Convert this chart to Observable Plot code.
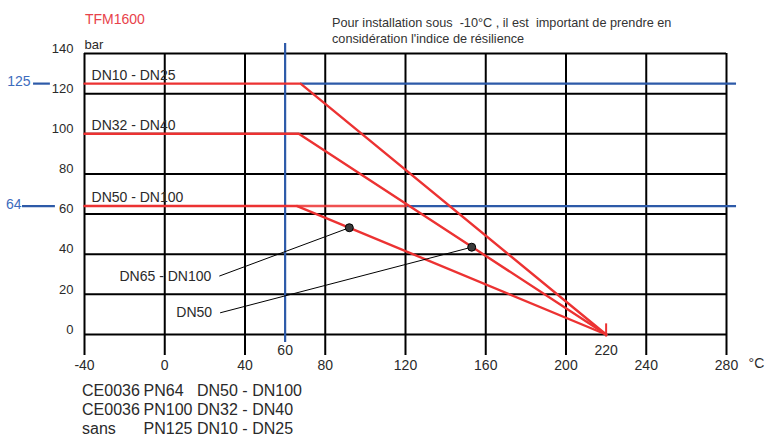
<!DOCTYPE html>
<html><head><meta charset="utf-8">
<script src="https://cdn.jsdelivr.net/npm/d3@7"></script>
<script src="https://cdn.jsdelivr.net/npm/@observablehq/plot@0.6"></script>
<style>
body{margin:0;background:#fff;font-family:"Liberation Sans",Arial,sans-serif;color:#2a2a2a}
#wrap{position:relative;width:765px;height:436px;overflow:hidden;background:#fff}
#wrap svg{position:absolute;left:0;top:0}
.abs{position:absolute;white-space:pre}
</style></head>
<body><div id="wrap"></div>
<script>
// ---- data ----
const xTicks = [-40, 0, 40, 80, 120, 160, 200, 240, 280];
const yTicks = [0, 20, 40, 60, 80, 100, 120, 140];
const seriesNames = ["DN10 - DN25", "DN32 - DN40", "DN50 - DN100"];
const maxPressure = [125, 100, 64];          // bar
const kneeTemp = [67.7, 66.8, 66];          // °C where derating starts
const startTemp = -40;
const endTemp = 220;                         // °C, 0 bar
const pnLimits = [125, 64];                  // blue reference levels
const limitTemp = 60;                        // blue reference temperature
const markerNames = ["DN65 - DN100", "DN50"];
const markerTemp = [92, 153];
const markerPressure = [53.2, 43.5];
const legendCert = ["CE0036", "CE0036", "sans"];
const legendPN = ["PN64", "PN100", "PN125"];
const legendDN = ["DN50 - DN100", "DN32 - DN40", "DN10 - DN25"];

const red = "#ec3232", blue = "#2d5aa8", blueText = "#3d6cbd", ink = "#2a2a2a";

const lineData = seriesNames.flatMap((s, i) => [
  {s, t: startTemp, p: maxPressure[i]},
  {s, t: kneeTemp[i], p: maxPressure[i]},
  {s, t: endTemp, p: 0}
]);
const seriesLabels = seriesNames.map((s, i) => ({s, t: -36.5, p: maxPressure[i] + 4}));
const markers = markerNames.map((n, i) => ({n, t: markerTemp[i], p: markerPressure[i]}));
const markerLabelPos = [{t: 23.2, p: 29.1}, {t: 23.6, p: 10.8}];
const blueRules = [
  {y: pnLimits[0], x1: kneeTemp[0], x2: 285},
  {y: pnLimits[1], x1: 121, x2: 285},
  {y: pnLimits[0], x1: -65.4, x2: -57},
  {y: pnLimits[1], x1: -70.9, x2: -54.5}
];
const redExtension = [{y: pnLimits[1], x1: kneeTemp[2], x2: 121}];
const blueLabels = [
  {y: pnLimits[0], x: -66.9, label: String(pnLimits[0])},
  {y: pnLimits[1], x: -71.4, label: String(pnLimits[1])}
];

const chart = Plot.plot({
  width: 765, height: 436,
  marginTop: 53, marginBottom: 102, marginLeft: 84, marginRight: 39,
  x: {domain: [-40, 280], label: null},
  y: {domain: [0, 140], label: null},
  style: {fontFamily: "Liberation Sans, Arial, sans-serif", fontSize: "13px", color: ink, background: "transparent", overflow: "visible"},
  marks: [
    Plot.ruleX(xTicks, {x: d => d, y1: -10.5, y2: 140, stroke: "#000", strokeWidth: 2}),
    Plot.ruleY(yTicks, {y: d => d, x1: -40, x2: 280, stroke: "#000", strokeWidth: 2}),
    Plot.axisX(xTicks, {tickSize: 0, tickPadding: 26, fontSize: 14, fill: ink, label: null, tickFormat: d => String(d)}),
    Plot.axisY(yTicks, {tickSize: 0, tickPadding: 11, dy: -5, fontSize: 13, fill: ink, label: null, tickFormat: d => String(d)}),
    Plot.ruleX([limitTemp], {x: d => d, y1: -4, y2: 145, stroke: blue, strokeWidth: 2.2}),
    Plot.ruleY(blueRules, {y: "y", x1: "x1", x2: "x2", stroke: blue, strokeWidth: 2.2}),
    Plot.text(blueLabels, {x: "x", y: "y", text: "label", dy: -2, textAnchor: "end", fill: blueText, fontSize: 14}),
    Plot.ruleY(redExtension, {y: "y", x1: "x1", x2: "x2", stroke: red, strokeWidth: 2.4, strokeOpacity: 0.85}),
    Plot.line(lineData, {x: "t", y: "p", z: "s", stroke: red, strokeWidth: 2.4}),
    Plot.ruleX([endTemp], {x: d => d, y1: -1.3, y2: 5.3, stroke: red, strokeWidth: 2}),
    Plot.link(markers, {x1: (d, i) => markerLabelPos[i].t + 4, y1: (d, i) => markerLabelPos[i].p, x2: "t", y2: "p", stroke: "#000", strokeWidth: 1}),
    Plot.dot(markers, {x: "t", y: "p", r: 4, fill: "#3a3a3a", stroke: "#000", strokeWidth: 1}),
    Plot.text(markers, {x: (d, i) => markerLabelPos[i].t, y: (d, i) => markerLabelPos[i].p, text: "n", textAnchor: "end", fontSize: 14, fill: ink}),
    Plot.text(seriesLabels, {x: "t", y: "p", text: "s", textAnchor: "start", fontSize: 14, fill: ink}),
    Plot.text([limitTemp, endTemp], {x: d => d, y: -8, text: d => String(d), fontSize: 14, fill: ink}),
    Plot.text(["°C"], {x: 291, y: -14.6, text: d => d, textAnchor: "start", fontSize: 14, fill: ink}),
    Plot.text(["bar"], {x: -40, y: 144.5, text: d => d, textAnchor: "start", fontSize: 13, fill: ink})
  ]
});

const wrap = document.getElementById("wrap");
wrap.appendChild(chart);

function addText(txt, left, top, size, color, lh) {
  const d = document.createElement("div");
  d.className = "abs";
  d.textContent = txt;
  d.style.left = left + "px";
  d.style.top = top + "px";
  d.style.fontSize = size + "px";
  d.style.lineHeight = lh;
  d.style.color = color;
  wrap.appendChild(d);
  return d;
}
addText("TFM1600", 85, 12, 14, "#e8424a", "1");
addText("Pour installation sous  -10°C , il est  important de prendre en\nconsidération l'indice de résilience", 332, 15, 12.7, "#333", "16px");
legendCert.forEach((c, i) => {
  const top = 380.6 + i * 19;
  addText(c, 82, top, 16, ink, "19px");
  addText(legendPN[i], 143.5, top, 16, ink, "19px");
  addText(legendDN[i], 197, top, 16, ink, "19px");
});
</script>
</body></html>
